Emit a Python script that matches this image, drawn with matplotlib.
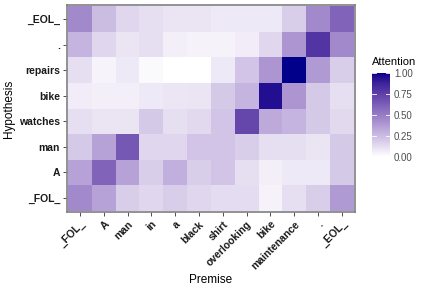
import matplotlib
matplotlib.use("Agg")
import matplotlib.pyplot as plt
import numpy as np
from matplotlib.colors import ListedColormap

premise = ["_FOL_", "A", "man", "in", "a", "black", "shirt", "overlooking",
           "bike", "maintenance", ".", "_EOL_"]
hypothesis = ["_FOL_", "A", "man", "watches", "bike", "repairs", ".", "_EOL_"]

# attention rows, bottom (_FOL_) to top (_EOL_)
att_fol = [0.45, 0.35, 0.18, 0.15, 0.18, 0.15, 0.13, 0.13, 0.05, 0.12, 0.18, 0.38]
att_a = [0.35, 0.60, 0.35, 0.18, 0.30, 0.18, 0.22, 0.12, 0.06, 0.08, 0.08, 0.20]
att_man = [0.20, 0.35, 0.65, 0.15, 0.15, 0.22, 0.22, 0.18, 0.12, 0.12, 0.10, 0.20]
att_watches = [0.12, 0.10, 0.10, 0.20, 0.12, 0.14, 0.22, 0.72, 0.32, 0.28, 0.20, 0.14]
att_bike = [0.07, 0.06, 0.06, 0.08, 0.09, 0.10, 0.20, 0.28, 0.95, 0.40, 0.20, 0.12]
att_repairs = [0.12, 0.04, 0.08, 0.02, 0.00, 0.00, 0.08, 0.22, 0.40, 1.00, 0.38, 0.18]
att_dot = [0.28, 0.15, 0.10, 0.12, 0.06, 0.05, 0.05, 0.07, 0.15, 0.40, 0.80, 0.45]
att_eol = [0.45, 0.25, 0.15, 0.12, 0.10, 0.10, 0.08, 0.08, 0.08, 0.18, 0.45, 0.60]

colorbar_ticks = [0.0, 0.25, 0.5, 0.75, 1.0]


def srgb_to_lab(rgb):
    rgb = np.asarray(rgb, float)
    lin = np.where(rgb <= 0.04045, rgb / 12.92, ((rgb + 0.055) / 1.055) ** 2.4)
    m = np.array([[0.4124, 0.3576, 0.1805],
                  [0.2126, 0.7152, 0.0722],
                  [0.0193, 0.1192, 0.9505]])
    xyz = m @ lin / np.array([0.95047, 1.0, 1.08883])
    f = np.where(xyz > 0.008856, np.cbrt(xyz), 7.787 * xyz + 16 / 116)
    return np.array([116 * f[1] - 16, 500 * (f[0] - f[1]), 200 * (f[1] - f[2])])


def lab_to_srgb(lab):
    L, a, b = lab
    fy = (L + 16) / 116
    fx = fy + a / 500
    fz = fy - b / 200
    f = np.array([fx, fy, fz])
    xyz = np.where(f ** 3 > 0.008856, f ** 3, (f - 16 / 116) / 7.787)
    xyz = xyz * np.array([0.95047, 1.0, 1.08883])
    minv = np.array([[3.2406, -1.5372, -0.4986],
                     [-0.9689, 1.8758, 0.0415],
                     [0.0557, -0.2040, 1.0570]])
    lin = minv @ xyz
    rgb = np.where(lin <= 0.0031308, 12.92 * lin, 1.055 * np.clip(lin, 0, None) ** (1 / 2.4) - 0.055)
    return np.clip(rgb, 0, 1)


# white -> darkblue, interpolated in Lab like ggplot's scale_fill_gradient
lo = srgb_to_lab([1, 1, 1])
hi = srgb_to_lab([0, 0, 0x8B / 255])
cmap = ListedColormap([lab_to_srgb(lo + t * (hi - lo)) for t in np.linspace(0, 1, 256)])

data = np.array([att_fol, att_a, att_man, att_watches, att_bike,
                 att_repairs, att_dot, att_eol])

plt.rcParams["font.family"] = ["Liberation Sans", "DejaVu Sans"]

fig = plt.figure(figsize=(4.27, 2.85), dpi=100)
ax = fig.add_axes([0.157, 0.256, 0.674, 0.726])
im = ax.imshow(data, cmap=cmap, vmin=0, vmax=1, origin="lower",
               aspect="auto", interpolation="nearest")
ax.set_xlim(-0.55, len(premise) - 0.45)
ax.set_ylim(-0.55, len(hypothesis) - 0.45)

ax.set_xticks(range(len(premise)))
ax.set_xticklabels(premise, rotation=45, ha="right", rotation_mode="anchor",
                   fontsize=7.5, fontweight="bold", color="#1a1a1a")
ax.set_yticks(range(len(hypothesis)))
ax.set_yticklabels(hypothesis, fontsize=7.5, fontweight="bold", color="#1a1a1a")
ax.tick_params(length=3, width=0.6, color="#333333", pad=2)
for s in ax.spines.values():
    s.set_color("#7f7f7f")
    s.set_linewidth(1.2)
ax.set_xlabel("Premise", fontsize=8.5, labelpad=2)
ax.set_ylabel("Hypothesis", fontsize=8.5, labelpad=3)

cax = fig.add_axes([0.871, 0.449, 0.042, 0.295])
cb = fig.colorbar(im, cax=cax, ticks=colorbar_ticks)
cb.outline.set_visible(False)
cb.ax.set_yticklabels(["%.2f" % t for t in colorbar_ticks], fontsize=7, color="#4d4d4d")
cb.ax.tick_params(length=0, pad=3)
for t in colorbar_ticks:
    cax.plot([0, 0.2], [t, t], color="white", lw=0.6, transform=cax.get_yaxis_transform())
    cax.plot([0.8, 1.0], [t, t], color="white", lw=0.6, transform=cax.get_yaxis_transform())
cax.set_title("Attention", fontsize=8, loc="left", pad=6)

fig.savefig("out.png", dpi=100)
